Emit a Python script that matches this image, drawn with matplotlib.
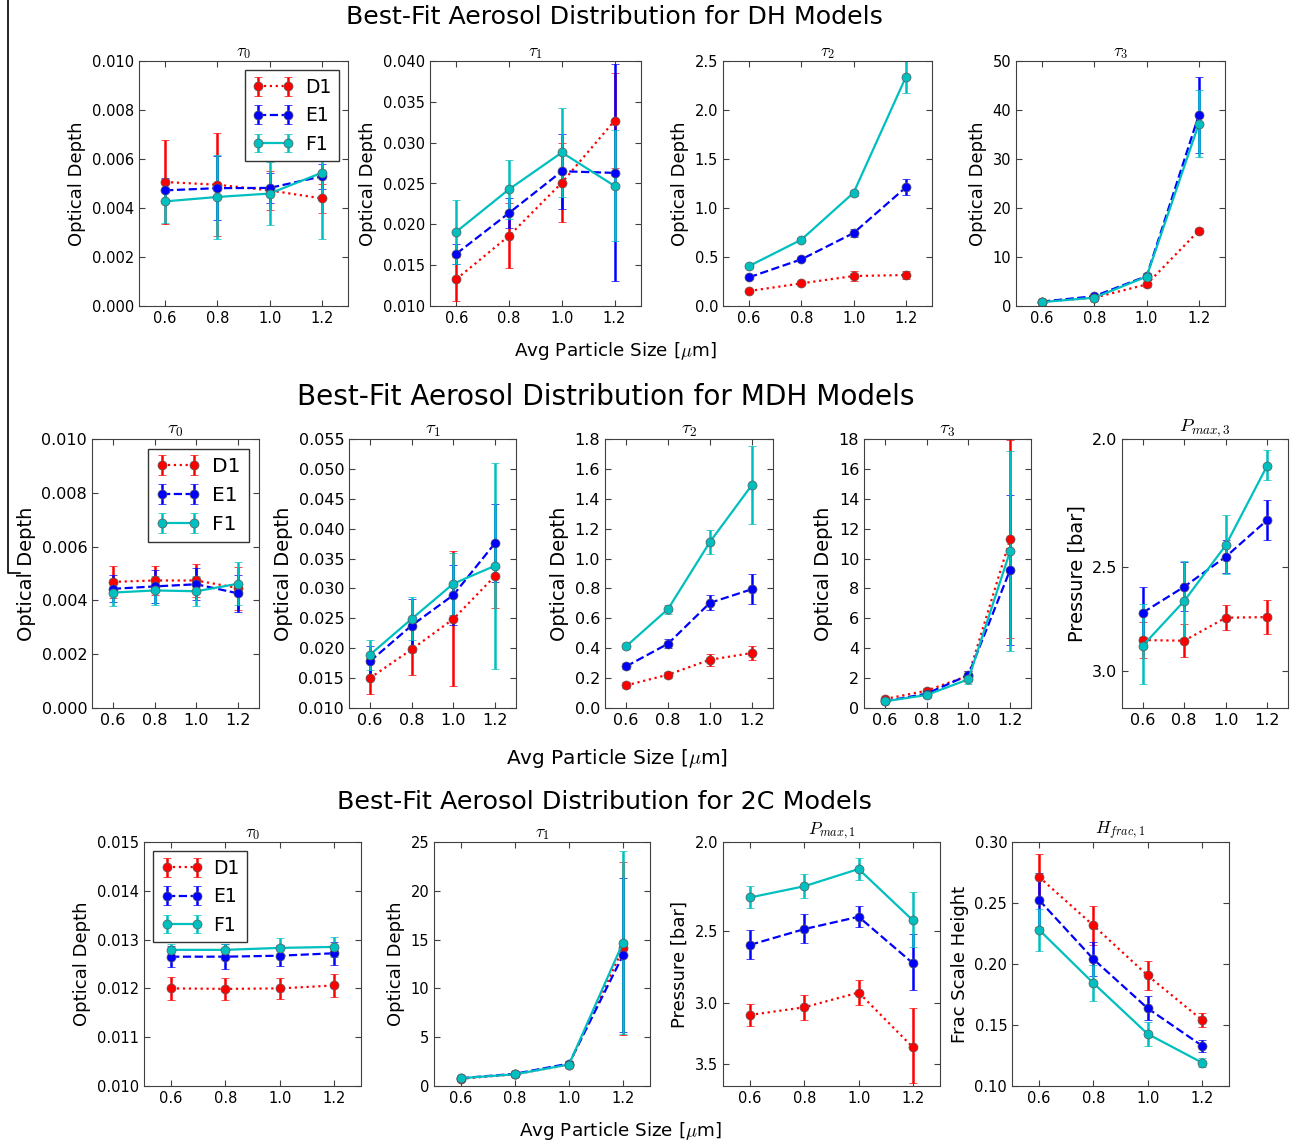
import numpy as np
import matplotlib
matplotlib.use('Agg')
import matplotlib.pyplot as plt
from matplotlib.ticker import FormatStrFormatter, NullLocator
from matplotlib.lines import Line2D

# tamano de particula
sizes = [0.6, 0.8, 1.0, 1.2]
models = ['D1', 'E1', 'F1']

# DH
dh_tau0 = [[0.00506, 0.00495, 0.00472, 0.00439], [0.00472, 0.00481, 0.00482, 0.00529], [0.00427, 0.00445, 0.00459, 0.00544]]
dh_tau0_err = [[0.0017, 0.0021, 0.0008, 0.0006], [0.0005, 0.0013, 0.0006, 0.0005], [0.0009, 0.0017, 0.0013, 0.0027]]
dh_tau1 = [[0.0133, 0.0186, 0.0251, 0.0327], [0.0164, 0.0214, 0.0265, 0.0263], [0.0191, 0.0243, 0.0288, 0.0247]]
dh_tau1_err = [[0.0027, 0.0040, 0.0048, 0.0058], [0.0012, 0.0018, 0.0046, 0.0133], [0.0039, 0.0036, 0.0055, 0.0068]]
dh_tau2 = [[0.153, 0.231, 0.306, 0.316], [0.293, 0.476, 0.745, 1.211], [0.408, 0.677, 1.156, 2.337]]
dh_tau2_err = [[0.02, 0.02, 0.05, 0.04], [0.02, 0.02, 0.04, 0.08], [0.02, 0.02, 0.03, 0.16]]
dh_tau3 = [[0.9, 1.7, 4.4, 15.4], [0.9, 2.0, 6.1, 39.0], [0.8, 1.7, 6.0, 37.2]]
dh_tau3_err = [[0.2, 0.3, 0.5, 0.6], [0.2, 0.3, 0.6, 7.8], [0.2, 0.3, 0.6, 6.8]]

# MDH
mdh_tau0 = [[0.00469, 0.00474, 0.00474, 0.00446], [0.00443, 0.00452, 0.00460, 0.00426], [0.00429, 0.00437, 0.00434, 0.00462]]
mdh_tau0_err = [[0.0006, 0.00055, 0.00063, 0.0008], [0.0005, 0.0006, 0.0006, 0.0007], [0.0005, 0.00055, 0.00055, 0.0008]]
mdh_tau1 = [[0.0150, 0.0198, 0.0249, 0.0321], [0.0178, 0.0238, 0.0289, 0.0376], [0.0189, 0.0249, 0.0308, 0.0338]]
mdh_tau1_err = [[0.0026, 0.0042, 0.0113, 0.0054], [0.0025, 0.0045, 0.0050, 0.0066], [0.0025, 0.0036, 0.0052, 0.0172]]
mdh_tau2 = [[0.151, 0.223, 0.323, 0.368], [0.278, 0.430, 0.704, 0.795], [0.412, 0.662, 1.112, 1.493]]
mdh_tau2_err = [[0.02, 0.02, 0.04, 0.05], [0.02, 0.03, 0.05, 0.10], [0.02, 0.03, 0.08, 0.26]]
mdh_tau3 = [[0.60, 1.16, 2.16, 11.3], [0.45, 0.96, 2.20, 9.24], [0.45, 0.87, 1.92, 10.5]]
mdh_tau3_err = [[0.1, 0.2, 0.3, 6.6], [0.1, 0.2, 0.3, 5.0], [0.1, 0.2, 0.3, 6.7]]
mdh_pmax3 = [[2.842, 2.845, 2.733, 2.730], [2.709, 2.589, 2.457, 2.304], [2.870, 2.654, 2.408, 2.095]]
mdh_pmax3_err = [[0.09, 0.08, 0.06, 0.08], [0.12, 0.11, 0.07, 0.08], [0.20, 0.18, 0.125, 0.055]]

# 2C
c2_tau0 = [[0.01200, 0.01199, 0.01200, 0.01206], [0.01265, 0.01265, 0.01267, 0.01272], [0.01279, 0.01279, 0.01283, 0.01285]]
c2_tau0_err = [[0.00024, 0.00023, 0.00022, 0.00023], [0.00022, 0.00025, 0.00022, 0.00024], [0.00012, 0.00012, 0.0002, 0.0002]]
c2_tau1 = [[0.75, 1.2, 2.2, 14.1], [0.8, 1.25, 2.3, 13.4], [0.8, 1.2, 2.2, 14.7]]
c2_tau1_err = [[0.2, 0.2, 0.3, 8.9], [0.2, 0.2, 0.3, 7.9], [0.2, 0.2, 0.3, 9.4]]
c2_pmax1 = [[3.093, 3.034, 2.923, 3.356], [2.592, 2.491, 2.415, 2.715], [2.300, 2.236, 2.141, 2.437]]
c2_pmax1_err = [[0.085, 0.095, 0.09, 0.32], [0.095, 0.09, 0.065, 0.19], [0.065, 0.07, 0.06, 0.17]]
c2_hfrac1 = [[0.2713, 0.2316, 0.1906, 0.1542], [0.2524, 0.2040, 0.1637, 0.1331], [0.2280, 0.1843, 0.1427, 0.1192]]
c2_hfrac1_err = [[0.019, 0.016, 0.012, 0.006], [0.022, 0.014, 0.010, 0.005], [0.017, 0.015, 0.010, 0.004]]

colores = ['#ff0000', '#0000ff', '#00bfbf']
estilos = [':', '--', '-']

plt.rcParams['font.family'] = ['DejaVu Sans']
plt.rcParams['mathtext.fontset'] = 'cm'
plt.rcParams['xtick.direction'] = 'in'
plt.rcParams['ytick.direction'] = 'in'
plt.rcParams['xtick.top'] = True
plt.rcParams['ytick.right'] = True
plt.rcParams['xtick.major.size'] = 4
plt.rcParams['ytick.major.size'] = 4
plt.rcParams['axes.edgecolor'] = '0.25'
plt.rcParams['xtick.color'] = '0.25'
plt.rcParams['ytick.color'] = '0.25'
plt.rcParams['xtick.labelcolor'] = 'black'
plt.rcParams['ytick.labelcolor'] = 'black'

W, H = 1293, 1146
fig = plt.figure(figsize=(W / 100, H / 100), dpi=100)


def caja(left, top, width, bottom):
    return [left / W, 1 - bottom / H, width / W, (bottom - top) / H]


def panel(pos, vals, errs, titulo, ylab, ylim, yticks, fs, logp=False, leyenda=None):
    ax = fig.add_axes(pos)
    for k in range(3):
        ax.errorbar(sizes, vals[k], yerr=errs[k], color=colores[k], ls=estilos[k], lw=1.6,
                    marker='o', ms=6.5, mec='0.35', mew=0.5, elinewidth=1.8, capsize=3,
                    capthick=1, label=models[k])
    ax.set_xlim(0.5, 1.3)
    ax.set_xticks(sizes)
    ax.set_xticklabels(['0.6', '0.8', '1.0', '1.2'])
    if logp:
        ax.set_yscale('log')
        ax.set_ylim(ylim)
        ax.set_yticks(yticks)
        ax.yaxis.set_major_formatter(FormatStrFormatter('%.1f'))
        ax.yaxis.set_minor_locator(NullLocator())
    else:
        ax.set_ylim(ylim)
        ax.set_yticks(yticks)
    ax.tick_params(labelsize=fs)
    ax.set_title(titulo, fontsize=fs + 2, pad=3)
    ax.set_ylabel(ylab, fontsize=fs + 2.5)
    if leyenda is not None:
        ax.legend(loc=leyenda, numpoints=2, fontsize=fs + 3, handlelength=2.2,
                  fancybox=False, edgecolor='0.2', framealpha=1, borderpad=0.4,
                  labelspacing=0.5, handletextpad=0.6)
    return ax


# fila DH
t1, b1 = 61, 306
panel(caja(139, t1, 209, b1), dh_tau0, dh_tau0_err, r'$\tau_0$', 'Optical Depth', (0, 0.010), np.arange(0, 0.0101, 0.002), 10.5, leyenda='upper right')
ax = panel(caja(430, t1, 211, b1), dh_tau1, dh_tau1_err, r'$\tau_1$', 'Optical Depth', (0.010, 0.040), np.arange(0.010, 0.0401, 0.005), 10.5)
ax.yaxis.set_major_formatter(FormatStrFormatter('%.3f'))
ax = panel(caja(723, t1, 209, b1), dh_tau2, dh_tau2_err, r'$\tau_2$', 'Optical Depth', (0, 2.5), np.arange(0, 2.51, 0.5), 10.5)
ax.yaxis.set_major_formatter(FormatStrFormatter('%.1f'))
panel(caja(1016, t1, 209, b1), dh_tau3, dh_tau3_err, r'$\tau_3$', 'Optical Depth', (0, 50), np.arange(0, 51, 10), 10.5)

# fila MDH
t2, b2 = 439, 708
ax = panel(caja(92, t2, 167, b2), mdh_tau0, mdh_tau0_err, r'$\tau_0$', 'Optical Depth', (0, 0.010), np.arange(0, 0.0101, 0.002), 11.5, leyenda='upper right')
ax.yaxis.set_major_formatter(FormatStrFormatter('%.3f'))
ax = panel(caja(349, t2, 167, b2), mdh_tau1, mdh_tau1_err, r'$\tau_1$', 'Optical Depth', (0.010, 0.055), np.arange(0.010, 0.0551, 0.005), 11.5)
ax.yaxis.set_major_formatter(FormatStrFormatter('%.3f'))
ax = panel(caja(605, t2, 168, b2), mdh_tau2, mdh_tau2_err, r'$\tau_2$', 'Optical Depth', (0, 1.8), np.arange(0, 1.81, 0.2), 11.5)
ax.yaxis.set_major_formatter(FormatStrFormatter('%.1f'))
panel(caja(864, t2, 167, b2), mdh_tau3, mdh_tau3_err, r'$\tau_3$', 'Optical Depth', (0, 18), np.arange(0, 19, 2), 11.5)
panel(caja(1122, t2, 166, b2), mdh_pmax3, mdh_pmax3_err, r'$P_{max,3}$', 'Pressure [bar]', (3.2, 2.0), [2.0, 2.5, 3.0], 11.5, logp=True)

# fila 2C
t3, b3 = 842, 1086
ax = panel(caja(144, t3, 217, b3), c2_tau0, c2_tau0_err, r'$\tau_0$', 'Optical Depth', (0.010, 0.015), np.arange(0.010, 0.01501, 0.001), 10.5, leyenda='upper left')
ax.yaxis.set_major_formatter(FormatStrFormatter('%.3f'))
panel(caja(434, t3, 216, b3), c2_tau1, c2_tau1_err, r'$\tau_1$', 'Optical Depth', (0, 25), np.arange(0, 26, 5), 10.5)
panel(caja(723, t3, 217, b3), c2_pmax1, c2_pmax1_err, r'$P_{max,1}$', 'Pressure [bar]', (3.7, 2.0), [2.0, 2.5, 3.0, 3.5], 10.5, logp=True)
ax = panel(caja(1012, t3, 217, b3), c2_hfrac1, c2_hfrac1_err, r'$H_{frac,1}$', 'Frac Scale Height', (0.10, 0.30), np.arange(0.10, 0.301, 0.05), 10.5)
ax.yaxis.set_major_formatter(FormatStrFormatter('%.2f'))

# titulos y etiquetas
fig.text(614 / W, 1 - 17 / H, 'Best-Fit Aerosol Distribution for DH Models', ha='center', va='center', fontsize=18.2)
fig.text(606 / W, 1 - 397 / H, 'Best-Fit Aerosol Distribution for MDH Models', ha='center', va='center', fontsize=20.1)
fig.text(604 / W, 1 - 802 / H, 'Best-Fit Aerosol Distribution for 2C Models', ha='center', va='center', fontsize=18.3)
fig.text(615 / W, 1 - 351 / H, r'Avg Particle Size [$\mu$m]', ha='center', va='center', fontsize=13.2)
fig.text(617 / W, 1 - 758 / H, r'Avg Particle Size [$\mu$m]', ha='center', va='center', fontsize=14.5)
fig.text(620 / W, 1 - 1131 / H, r'Avg Particle Size [$\mu$m]', ha='center', va='center', fontsize=13.2)

# linea del borde izquierdo
fig.add_artist(Line2D([8 / W, 8 / W, 20 / W], [1.0, 1 - 573 / H, 1 - 573 / H], color='black', lw=1.2))

fig.savefig('out.png', dpi=100, facecolor='white')
